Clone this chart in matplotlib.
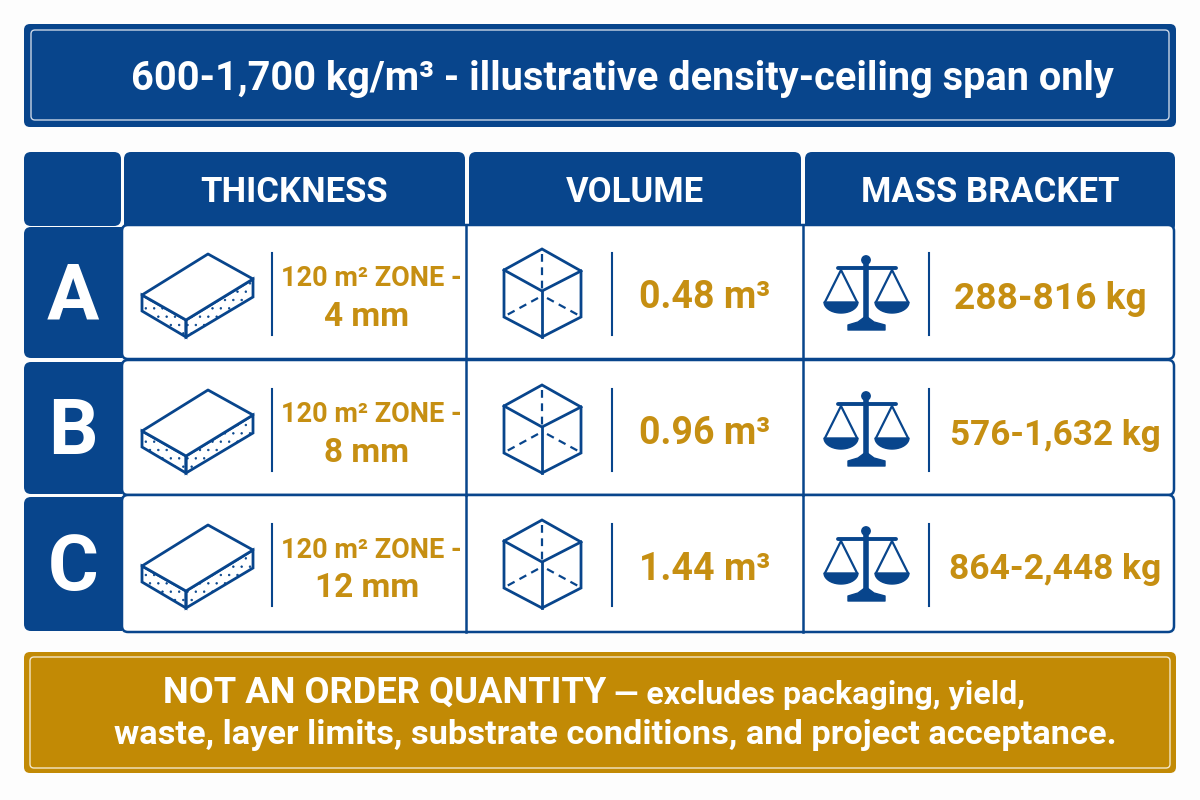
import matplotlib
matplotlib.use('Agg')
import matplotlib.pyplot as plt
import numpy as np
from matplotlib.patches import FancyBboxPatch, Polygon, Circle, Rectangle

NAVY = '#08458c'
GOLD = '#c28a05'
GOLD_TEXT = '#c68f12'

TITLE = '600-1,700 kg/m³ - illustrative density-ceiling span only'
HEADERS = ['THICKNESS', 'VOLUME', 'MASS BRACKET']
ROW_NAMES = ['A', 'B', 'C']
ZONE_LABEL = '120 m² ZONE -'
THICKNESS = ['4 mm', '8 mm', '12 mm']
VOLUME = ['0.48 m³', '0.96 m³', '1.44 m³']
MASS = ['288-816 kg', '576-1,632 kg', '864-2,448 kg']
NOTE_BOLD = 'NOT AN ORDER QUANTITY'
NOTE_REST = '— excludes packaging, yield,'
NOTE_LINE2 = 'waste, layer limits, substrate conditions, and project acceptance.'

# layout in picture pixels
ROW_TOP = [227, 362, 497]
ROW_BOTTOM = [358, 494, 631]
ROW_SHIFT = [0, 136, 271]
COL_X = [(124, 465), (469, 801), (805, 1175)]
MASS_X = [1050, 1055, 1055]
MASS_SIZE = [26.7, 25.3, 25.5]

plt.rcParams['font.family'] = ['Roboto', 'DejaVu Sans']
plt.rcParams['hatch.linewidth'] = 0.5

fig = plt.figure(figsize=(12, 8), dpi=100, facecolor='#fdfdfd')
ax = fig.add_axes([0, 0, 1, 1])
ax.set_xlim(0, 1200)
ax.set_ylim(800, 0)
ax.axis('off')


def rbox(x0, y0, x1, y1, r, **kw):
    p = FancyBboxPatch((x0 + r, y0 + r), x1 - x0 - 2 * r, y1 - y0 - 2 * r,
                       boxstyle='round,pad=%f,rounding_size=%f' % (r, r), **kw)
    ax.add_patch(p)
    return p


def slab(dy):
    top = [(208, 254), (253, 279), (186, 320), (142, 295)]
    left = [(142, 295), (186, 320), (186, 337), (142, 311)]
    right = [(186, 320), (253, 279), (253, 297), (186, 337)]
    for pts in (left, right):
        pts = [(x, y + dy) for x, y in pts]
        ax.add_patch(Polygon(pts, closed=True, facecolor='white', edgecolor=NAVY,
                             hatch='..', lw=0, zorder=3))
        ax.add_patch(Polygon(pts, closed=True, fill=False, edgecolor=NAVY, lw=2, zorder=4))
    ax.add_patch(Polygon([(x, y + dy) for x, y in top], closed=True, facecolor='white',
                         edgecolor=NAVY, lw=2, joinstyle='round', zorder=4))


def cube(dy):
    outline = [(542, 249), (581, 271), (581, 317), (542, 337), (504, 317), (504, 270)]
    ax.add_patch(Polygon([(x, y + dy) for x, y in outline], closed=True, fill=False,
                         edgecolor=NAVY, lw=2, zorder=4))
    for xs, ys in [([504, 542, 581], [270, 291, 271]), ([542, 542], [291, 337])]:
        ax.plot(xs, [y + dy for y in ys], color=NAVY, lw=2, zorder=4)
    for xs, ys in [([542, 542], [254, 290]), ([538, 505], [298, 316]), ([547, 580], [298, 316])]:
        ax.plot(xs, [y + dy for y in ys], color=NAVY, lw=1.6, ls=(0, (3.5, 2.5)), zorder=4)


def scales(dy):
    ax.plot([838, 896], [268 + dy, 268 + dy], color=NAVY, lw=2.8, solid_capstyle='round')
    ax.plot([866, 866], [262 + dy, 322 + dy], color=NAVY, lw=4, solid_capstyle='butt')
    ax.add_patch(Circle((866, 260 + dy), 4.2, color=NAVY))
    angle = np.linspace(0, np.pi, 30)
    for cx in (841, 892):
        ax.plot([cx - 16, cx, cx + 16], [302 + dy, 270 + dy, 302 + dy], color=NAVY, lw=1.6)
        bowl = np.column_stack([cx + 17 * np.cos(angle), 302 + dy + 11 * np.sin(angle)])
        ax.add_patch(Polygon(bowl, closed=True, color=NAVY))
    ax.add_patch(Polygon([(866, 316 + dy), (874, 322 + dy), (885, 325 + dy), (885, 330 + dy),
                          (848, 330 + dy), (848, 325 + dy), (858, 322 + dy)],
                         closed=True, color=NAVY, joinstyle='round'))


# top banner
rbox(24, 24, 1176, 127, 6, facecolor=NAVY, edgecolor='none')
rbox(31, 30, 1169, 120, 4, facecolor='none', edgecolor='#c9d6e6', lw=1)
ax.text(622, 79, TITLE, color='white', fontsize=28.6, fontweight='bold', ha='center', va='center')

# header row
rbox(24, 152, 121, 226, 7, facecolor=NAVY, edgecolor='none')
for (x0, x1), head in zip(COL_X, HEADERS):
    rbox(x0, 152, x1, 232, 7, facecolor=NAVY, edgecolor='none')
    ax.text((x0 + x1) / 2, 192, head, color='white', fontsize=24.9, fontweight='bold',
            ha='center', va='center')

# table rows
for i, name in enumerate(ROW_NAMES):
    y0, y1, dy = ROW_TOP[i], ROW_BOTTOM[i], ROW_SHIFT[i]
    rbox(122, y0 - 2, 1174, y1 + 1, 6, facecolor='white', edgecolor=NAVY, lw=1.8, zorder=1)
    for x in (466, 803):
        ax.plot([x, x], [y0 - 2, y1 + 1], color=NAVY, lw=1.8, zorder=2)
    rbox(24, y0, 122, y1, 7, facecolor=NAVY, edgecolor='none', zorder=2)
    ax.add_patch(Rectangle((112, y0), 10, y1 - y0, facecolor=NAVY, edgecolor='none', zorder=2))
    ax.text(73, (y0 + y1) / 2 + 5, name, color='white', fontsize=56, fontweight='bold',
            ha='center', va='center', zorder=3)

    slab(dy)
    cube(dy)
    scales(dy)
    for x in (272, 612, 929):
        ax.plot([x, x], [253 + dy, 335 + dy], color=NAVY, lw=1.5)

    ax.text(371, 279 + dy, ZONE_LABEL, color=GOLD_TEXT, fontsize=19.5, fontweight='bold',
            ha='center', va='center')
    ax.text(367, 317 + dy, THICKNESS[i], color=GOLD_TEXT, fontsize=24, fontweight='bold',
            ha='center', va='center')
    ax.text(705, 298 + dy, VOLUME[i], color=GOLD_TEXT, fontsize=27, fontweight='bold',
            ha='center', va='center')
    ax.text(MASS_X[i], 299 + dy, MASS[i], color=GOLD_TEXT, fontsize=MASS_SIZE[i],
            fontweight='bold', ha='center', va='center')

# note banner
rbox(24, 652, 1176, 773, 6, facecolor=GOLD, edgecolor='none')
rbox(30, 657, 1170, 768, 4, facecolor='none', edgecolor='#f3e6c8', lw=1)
ax.text(163, 693, NOTE_BOLD, color='white', fontsize=26.2, fontweight='bold', ha='left', va='center')
ax.text(1025, 695, NOTE_REST, color='white', fontsize=23, fontweight='bold', ha='right', va='center')
ax.text(615, 735, NOTE_LINE2, color='white', fontsize=24.75, fontweight='bold', ha='center', va='center')

fig.savefig('out.png', dpi=100, facecolor=fig.get_facecolor())
